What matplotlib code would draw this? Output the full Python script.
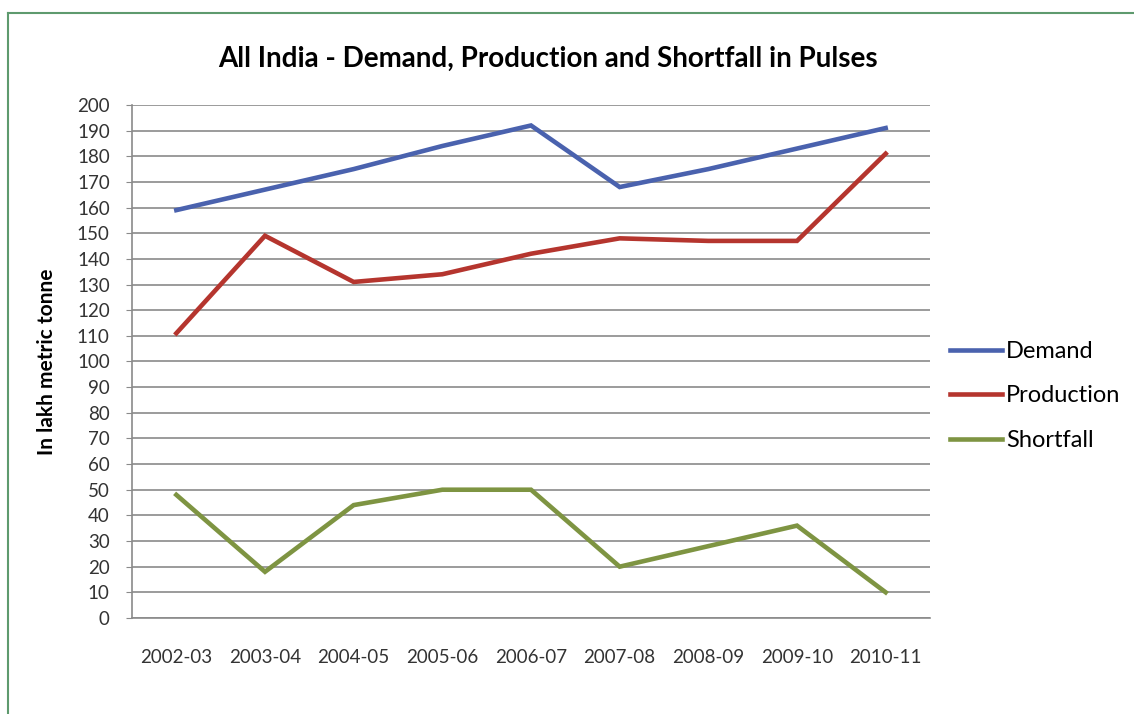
import matplotlib
matplotlib.use('Agg')
from matplotlib import pyplot as plt
from matplotlib.lines import Line2D

years = ['2002-03', '2003-04', '2004-05', '2005-06', '2006-07',
         '2007-08', '2008-09', '2009-10', '2010-11']
demand = [159, 167, 175, 184, 192, 168, 175, 183, 191]
production = [111, 149, 131, 134, 142, 148, 147, 147, 181]
shortfall = [48, 18, 44, 50, 50, 20, 28, 36, 10]

plt.rcParams['font.family'] = ['Lato', 'DejaVu Sans']

fig = plt.figure(figsize=(11.34, 7.14), dpi=100)
ax = fig.add_axes([0.1164, 0.1345, 0.7037, 0.7185])

x = list(range(len(years)))
ax.plot(x, demand, color='#4A62AE', lw=3.3, label='Demand', solid_joinstyle='miter')
ax.plot(x, production, color='#B5352E', lw=3.3, label='Production', solid_joinstyle='miter')
ax.plot(x, shortfall, color='#7E9442', lw=3.3, label='Shortfall', solid_joinstyle='miter')

ax.set_xlim(-0.5, len(years) - 0.5)
ax.set_ylim(0, 200)
ax.set_yticks(range(0, 201, 10))
ax.set_xticks(x)
ax.set_xticklabels(years)
ax.grid(axis='y', color='#8A8A8A', lw=1.2)
ax.set_axisbelow(True)
for side in ['top', 'right']:
    ax.spines[side].set_visible(False)
for side in ['left', 'bottom']:
    ax.spines[side].set_color('#8A8A8A')
    ax.spines[side].set_linewidth(1.2)
ax.tick_params(axis='y', length=4, color='#8A8A8A', labelsize=13.5, labelcolor='#333333', pad=12)
ax.tick_params(axis='x', length=0, labelsize=13.5, labelcolor='#333333', pad=22)

ax.set_ylabel('In lakh metric tonne', fontsize=15, fontweight='bold', labelpad=14)
fig.text(0.483, 0.918, 'All India - Demand, Production and Shortfall in Pulses',
         ha='center', va='center', fontsize=20, fontweight='bold')

ax.legend(loc='center left', bbox_to_anchor=(0.8377, 0.4454), bbox_transform=fig.transFigure,
          frameon=False, fontsize=17, handlelength=2.2, handletextpad=0.17,
          labelspacing=1.0, borderaxespad=0, borderpad=0)

# green frame along top and left
fig.add_artist(Line2D([0.007, 0.007], [0.0, 0.982], color='#5E9A6E', lw=1.5, transform=fig.transFigure))
fig.add_artist(Line2D([0.007, 1.0], [0.982, 0.982], color='#5E9A6E', lw=1.5, transform=fig.transFigure))

fig.savefig('out.png', dpi=100)
